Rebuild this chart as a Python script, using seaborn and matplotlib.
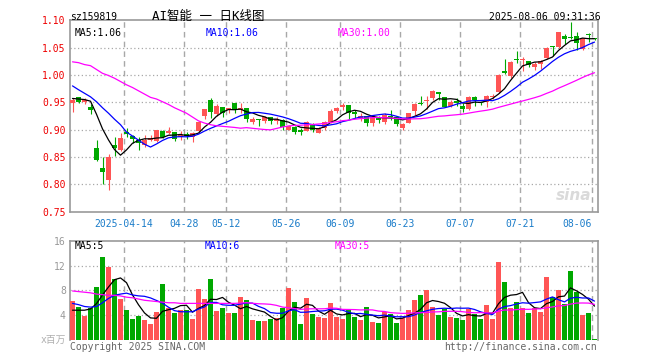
import numpy as np
import pandas as pd
import matplotlib
matplotlib.use('Agg')
import matplotlib.pyplot as plt
import seaborn as sns

# daily K-line of sz159819, 2025-03-31 .. 2025-08-06 (88 trading days)
opens = [0.948, 0.959, 0.951, 0.941, 0.8666, 0.830, 0.807, 0.872, 0.8618, 0.896,
         0.8885, 0.8812, 0.8715, 0.881, 0.8794, 0.898, 0.8934, 0.896, 0.886, 0.892,
         0.886, 0.8977, 0.924, 0.9543, 0.928, 0.941, 0.935, 0.9494, 0.936, 0.939,
         0.914, 0.918, 0.916, 0.9226, 0.9165, 0.918, 0.900, 0.9056, 0.8995, 0.898,
         0.9105, 0.8946, 0.9026, 0.9135, 0.9348, 0.941, 0.9446, 0.932, 0.9208, 0.924,
         0.9117, 0.9226, 0.9147, 0.925, 0.9226, 0.9035, 0.913, 0.9348, 0.9467, 0.953,
         0.9586, 0.9683, 0.959, 0.944, 0.953, 0.944, 0.937, 0.9603, 0.949, 0.950,
         0.9605, 0.968, 1.0067, 0.998, 1.0285, 1.027, 1.025, 1.0152, 1.020, 1.0311,
         1.0518, 1.0518, 1.0707, 1.069, 1.0707, 1.0476, 1.0732, 1.067]
highs = [0.957, 0.960, 0.957, 0.946, 0.8812, 0.8496, 0.8557, 0.886, 0.893, 0.9026,
         0.8904, 0.886, 0.890, 0.890, 0.8995, 0.899, 0.904, 0.896, 0.898, 0.8965,
         0.8965, 0.916, 0.938, 0.9586, 0.9464, 0.942, 0.939, 0.9494, 0.9494, 0.940,
         0.9226, 0.919, 0.925, 0.9226, 0.9226, 0.9196, 0.908, 0.907, 0.9026, 0.9153,
         0.9117, 0.9056, 0.916, 0.937, 0.941, 0.948, 0.9446, 0.936, 0.930, 0.925,
         0.927, 0.925, 0.930, 0.935, 0.924, 0.9125, 0.9312, 0.948, 0.9616, 0.9616,
         0.9726, 0.9683, 0.960, 0.954, 0.957, 0.948, 0.962, 0.962, 0.951, 0.964,
         0.965, 1.001, 1.029, 1.025, 1.0445, 1.032, 1.026, 1.023, 1.0274, 1.052,
         1.0525, 1.078, 1.075, 1.0963, 1.078, 1.068, 1.076, 1.068]
lows = [0.933, 0.948, 0.946, 0.928, 0.8417, 0.7996, 0.7887, 0.851, 0.860, 0.886,
        0.876, 0.862, 0.869, 0.879, 0.878, 0.884, 0.892, 0.879, 0.881, 0.883,
        0.877, 0.896, 0.919, 0.922, 0.925, 0.9227, 0.931, 0.930, 0.930, 0.9147,
        0.9105, 0.907, 0.912, 0.910, 0.910, 0.8995, 0.899, 0.892, 0.891, 0.897,
        0.8965, 0.8934, 0.8995, 0.9117, 0.930, 0.936, 0.919, 0.921, 0.916, 0.9068,
        0.907, 0.9117, 0.9105, 0.918, 0.907, 0.8995, 0.912, 0.927, 0.945, 0.937,
        0.954, 0.955, 0.941, 0.942, 0.943, 0.932, 0.936, 0.944, 0.945, 0.942,
        0.956, 0.967, 1.002, 0.995, 1.022, 1.008, 1.014, 1.009, 1.011, 1.029,
        1.034, 1.050, 1.057, 1.066, 1.0464, 1.046, 1.060, 1.064]
closes = [0.955, 0.951, 0.955, 0.936, 0.8435, 0.8216, 0.8496, 0.8666, 0.8849, 0.8916,
          0.8825, 0.876, 0.881, 0.884, 0.8995, 0.886, 0.898, 0.8825, 0.890, 0.8885,
          0.893, 0.914, 0.938, 0.933, 0.944, 0.930, 0.939, 0.936, 0.939, 0.919,
          0.9196, 0.917, 0.9226, 0.9165, 0.920, 0.904, 0.906, 0.8965, 0.8953, 0.914,
          0.8995, 0.9026, 0.914, 0.9348, 0.939, 0.9446, 0.930, 0.9287, 0.925, 0.913,
          0.925, 0.918, 0.927, 0.9227, 0.9105, 0.911, 0.930, 0.947, 0.9461, 0.9543,
          0.9708, 0.9647, 0.942, 0.951, 0.948, 0.9385, 0.960, 0.9542, 0.948, 0.961,
          0.9615, 1.0006, 1.003, 1.0232, 1.028, 1.0278, 1.0183, 1.020, 1.0262, 1.0488,
          1.051, 1.078, 1.0659, 1.068, 1.0585, 1.067, 1.0725, 1.0652]
# volume in millions
volumes = [6.3, 5.3, 3.9, 5.2, 8.6, 13.3, 11.7, 9.8, 6.6, 4.8,
           3.4, 3.8, 3.2, 2.6, 4.5, 9.0, 5.1, 4.3, 4.8, 4.8,
           3.4, 8.2, 6.6, 9.8, 4.6, 5.1, 4.3, 4.3, 6.9, 6.4,
           3.2, 3.0, 3.0, 3.4, 3.5, 5.1, 8.3, 6.1, 2.6, 6.7,
           4.2, 3.7, 3.5, 5.9, 3.7, 3.4, 4.8, 3.7, 3.2, 5.3,
           2.9, 2.7, 4.5, 4.2, 2.7, 3.5, 4.8, 6.4, 7.2, 8.1,
           5.3, 4.0, 5.0, 3.7, 3.5, 3.2, 5.0, 4.2, 3.4, 5.6,
           3.4, 12.6, 9.3, 5.2, 6.1, 5.2, 4.3, 5.2, 4.5, 10.1,
           6.9, 8.1, 5.8, 11.1, 7.7, 4.0, 4.3, 0.2]

# MA values at the left edge, they depend on days before the window
price_ma5_head = [0.957, 0.956, 0.955, 0.952]
price_ma10_head = [0.980, 0.973, 0.9665, 0.960, 0.951, 0.940, 0.930, 0.919, 0.909]
price_ma30_head = [1.024, 1.0225, 1.019, 1.017, 1.010, 1.003, 0.999, 0.994, 0.988, 0.982,
                   0.977, 0.971, 0.965, 0.959, 0.956, 0.951, 0.946, 0.940, 0.935, 0.930,
                   0.923, 0.916, 0.912, 0.909, 0.907, 0.906, 0.905, 0.904, 0.9026]
vol_ma5_head = [4.8, 4.8, 4.8, 5.0]
vol_ma10_head = [5.9, 5.7, 5.4, 5.3, 5.4, 6.0, 6.7, 7.2, 7.4]
vol_ma30_head = [7.9, 7.8, 7.7, 7.6, 7.4, 7.3, 7.2, 7.2, 7.1, 6.9,
                 6.8, 6.6, 6.4, 6.3, 6.2, 6.1, 6.0, 6.0, 5.9, 5.9,
                 5.9, 5.9, 5.9, 5.9, 5.9, 5.9, 5.9, 5.9, 5.95]

date_ticks = [9, 19, 26, 36, 45, 55, 65, 75, 87]
date_labels = ['2025-04-14', '04-28', '05-12', '05-26', '06-09', '06-23', '07-07', '07-21', '08-06']
price_ticks = [0.75, 0.80, 0.85, 0.90, 0.95, 1.00, 1.05, 1.10]
vol_ticks = [4, 8, 12, 16]

RED = '#ff5555'
GREEN = '#00a800'
GRID = '#a8a8a8'
MONO = ['DejaVu Sans Mono', 'Noto Sans CJK SC']

sns.set_style('white')
plt.rcParams['font.family'] = MONO


def moving_avg(values, window, head):
    ma = pd.Series(values, dtype=float).rolling(window).mean()
    ma.iloc[:len(head)] = head
    return ma


W, H = 660, 360
fig = plt.figure(figsize=(W / 100, H / 100), dpi=100)
L, R = 70, 597.5
ax = fig.add_axes([L / W, 1 - 211.6 / H, (R - L) / W, 191.3 / H])
axv = fig.add_axes([L / W, 1 - 340 / H, (R - L) / W, 99.3 / H])

df = pd.DataFrame({'o': opens, 'h': highs, 'l': lows, 'c': closes, 'v': volumes})
df['x'] = np.arange(len(df))
df['col'] = np.where(df['c'] >= df['o'], RED, GREEN)

# candles
ax.vlines(df['x'], df['l'], df['h'], colors=df['col'], linewidth=0.8, zorder=3)
body = (df['c'] - df['o']).abs().clip(lower=0.0019)
ax.bar(df['x'], body, bottom=df[['o', 'c']].min(axis=1), width=0.83,
       color=df['col'], linewidth=0, zorder=3)

# price moving averages
for win, head, col in [(5, price_ma5_head, 'black'), (10, price_ma10_head, '#0000ff'),
                       (30, price_ma30_head, '#ff00ff')]:
    sns.lineplot(x=df['x'], y=moving_avg(closes, win, head), ax=ax, color=col,
                 linewidth=0.9, zorder=4)

# volume bars and moving averages
axv.bar(df['x'], df['v'], width=0.83, color=df['col'], linewidth=0, zorder=3)
for win, head, col in [(5, vol_ma5_head, 'black'), (10, vol_ma10_head, '#0000ff'),
                       (30, vol_ma30_head, '#ff00ff')]:
    sns.lineplot(x=df['x'], y=moving_avg(volumes, win, head), ax=axv, color=col,
                 linewidth=0.9, zorder=4)

xlim = (-0.4167, 87.5)
grid_x = [t - 0.4 for t in date_ticks]
for a in (ax, axv):
    a.set_xlim(*xlim)
    a.set_xlabel('')
    a.set_ylabel('')
    for gx in grid_x:
        a.axvline(gx, color=GRID, linewidth=1.0, linestyle=(0, (4, 3)), zorder=1)
    for s in a.spines.values():
        s.set_color('#999999')
        s.set_linewidth(1.2)

ax.set_ylim(0.75, 1.10)
for t in price_ticks[1:-1]:
    ax.axhline(t, color=GRID, linewidth=0.9, linestyle=(0, (1, 2)), zorder=1)
ax.set_yticks(price_ticks)
ax.set_yticklabels([f'{t:.2f}' for t in price_ticks])
ax.tick_params(axis='y', length=0, pad=3, labelcolor='#ee0000', labelsize=7)
ax.set_xticks(grid_x)
ax.set_xticklabels(date_labels)
ax.tick_params(axis='x', length=0, pad=5, labelcolor='#1a7cc9', labelsize=7)
ax.get_xticklabels()[-1].set_ha('right')

axv.set_ylim(0, 16)
for t in vol_ticks[:-1]:
    axv.axhline(t, color=GRID, linewidth=0.9, linestyle=(0, (1, 2)), zorder=1)
axv.set_yticks(vol_ticks)
axv.set_yticklabels([str(t) for t in vol_ticks])
axv.tick_params(axis='y', length=0, pad=3, labelcolor='#999999', labelsize=7)
axv.set_xticks([])
axv.spines['bottom'].set_visible(False)


def px_text(x, y, s, **kw):
    fig.text(x / W, 1 - y / H, s, va='center', **kw)


# header
px_text(70, 16.5, 'sz159819', fontsize=7, color='black')
px_text(152, 16.5, 'AI智能 一 日K线图', fontsize=9, color='black')
px_text(601, 16.5, '2025-08-06 09:31:36', fontsize=7, color='black', ha='right')

# legends
px_text(75, 33.5, 'MA5:1.06', fontsize=7, color='black')
px_text(206, 33.5, 'MA10:1.06', fontsize=7, color='#0000ff')
px_text(338, 33.5, 'MA30:1.00', fontsize=7, color='#ff00ff')
px_text(75, 246, 'MA5:5', fontsize=7, color='black')
px_text(205, 246, 'MA10:6', fontsize=7, color='#0000ff')
px_text(335, 246, 'MA30:5', fontsize=7, color='#ff00ff')

# footer
px_text(66, 340, 'x百万', fontsize=7, color='#b0b0b0', ha='right')
px_text(70, 346.5, 'Copyright 2025 SINA.COM', fontsize=7, color='#666666')
px_text(597, 346.5, 'http://finance.sina.com.cn', fontsize=7, color='#666666', ha='right')

# faint sina watermark
px_text(574, 196, 'sina', fontsize=11, color='#dadada', ha='center',
        fontweight='bold', style='italic', family='DejaVu Sans')

fig.savefig('out.png', dpi=100)
